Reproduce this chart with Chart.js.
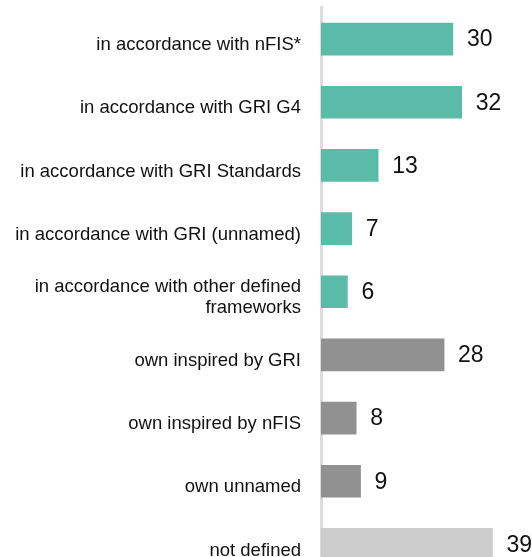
<!DOCTYPE html>
<html>
<head>
<meta charset="utf-8">
<script src="https://cdn.jsdelivr.net/npm/chart.js@4/dist/chart.umd.min.js"></script>
<style>
  html, body { margin: 0; padding: 0; background: #fff; overflow: hidden; }
  #wrap { width: 532px; height: 576px; }
</style>
</head>
<body>
<div id="wrap"><canvas id="reportChart"></canvas></div>
<script>
// categories (top to bottom)
const categories = [
    'in accordance with nFIS*',
    'in accordance with GRI G4',
    'in accordance with GRI Standards',
    'in accordance with GRI (unnamed)',
    ['in accordance with other defined', 'frameworks'],
    'own inspired by GRI',
    'own inspired by nFIS',
    'own unnamed',
    'not defined'
];
const counts = [30, 32, 13, 7, 6, 28, 8, 9, 39];
const barColors = [
    '#5bbba9', '#5bbba9', '#5bbba9', '#5bbba9', '#5bbba9',
    '#919191', '#919191', '#919191',
    '#cccccc'
];

const FONT = "'Liberation Sans', Arial, sans-serif";

// draws the count just right of each bar
const valueLabels = {
    id: 'valueLabels',
    afterDatasetsDraw(chart) {
        const ctx = chart.ctx;
        const meta = chart.getDatasetMeta(0);
        ctx.save();
        ctx.font = '23px ' + FONT;
        ctx.fillStyle = '#111';
        ctx.textAlign = 'left';
        ctx.textBaseline = 'middle';
        meta.data.forEach((bar, i) => {
            ctx.fillText(counts[i], bar.x + 14, bar.y + 1);
        });
        ctx.restore();
    }
};

new Chart(document.getElementById('reportChart').getContext('2d'), {
    type: 'bar',
    data: {
        labels: categories,
        datasets: [{
            data: counts,
            backgroundColor: barColors,
            borderWidth: 0,
            barThickness: 32
        }]
    },
    options: {
        indexAxis: 'y',
        responsive: true,
        maintainAspectRatio: false,
        animation: false,
        layout: { padding: { top: 7.5, right: 0, bottom: 0, left: 0 } },
        scales: {
            x: {
                display: false,
                min: 0,
                max: 48
            },
            y: {
                afterFit: scale => {
                    scale.width = 321;
                    // labels sit well inside their bands, no extra room needed
                    scale.paddingTop = 0;
                    scale.paddingBottom = 0;
                },
                grid: { display: false, drawTicks: false },
                border: { display: true, color: '#dcdcdc', width: 3 },
                ticks: {
                    autoSkip: false,
                    padding: 20,
                    labelOffset: 6,
                    color: '#111',
                    font: { family: FONT, size: 18.5, lineHeight: 1.15 }
                }
            }
        },
        plugins: {
            legend: { display: false },
            tooltip: { enabled: false }
        }
    },
    plugins: [valueLabels]
});
</script>
</body>
</html>
